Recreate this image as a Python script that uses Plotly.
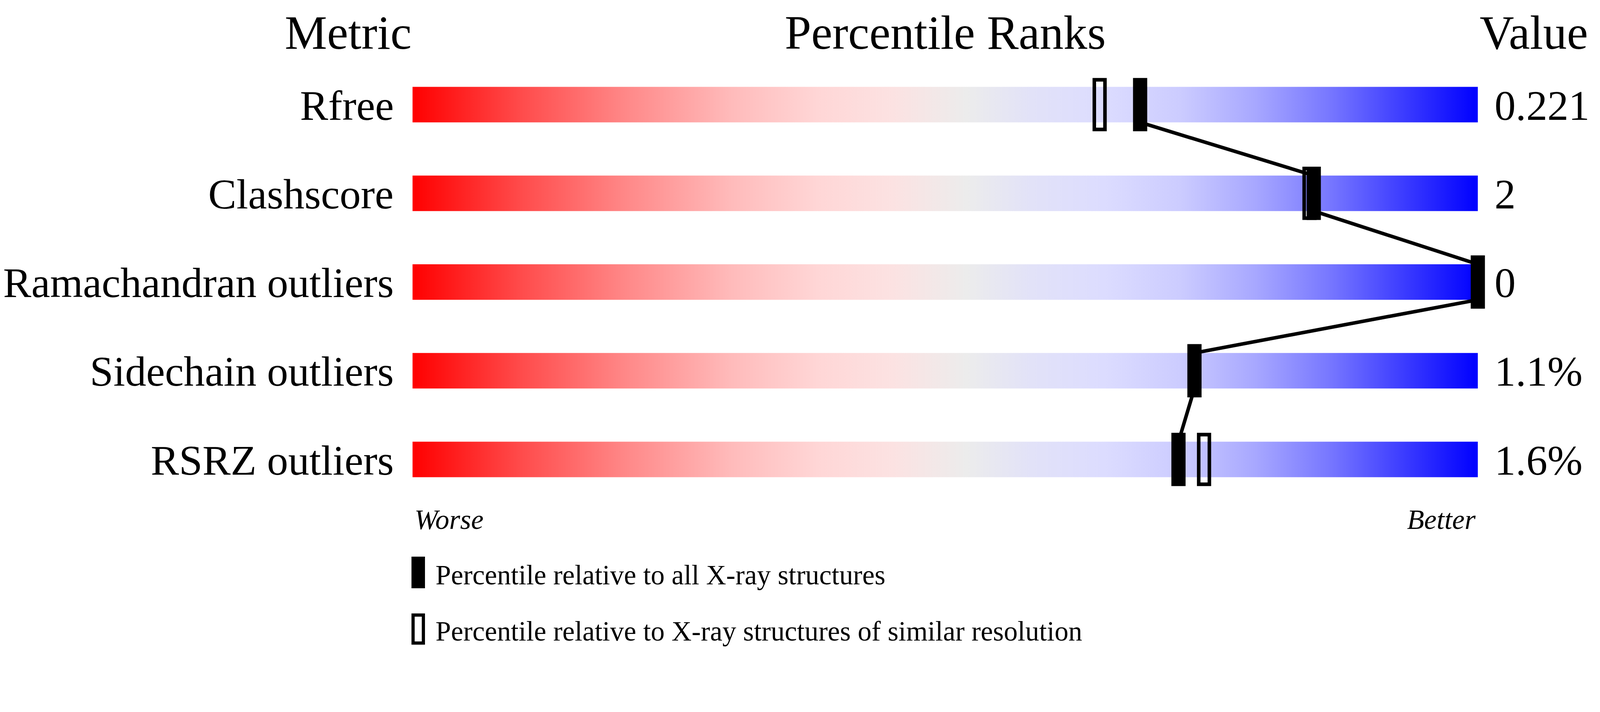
import plotly.graph_objects as go

# ---------------- data ----------------
metrics = ["Rfree", "Clashscore", "Ramachandran outliers", "Sidechain outliers", "RSRZ outliers"]
value_labels = ["0.221", "2", "0", "1.1%", "1.6%"]
pct_all = [68.3, 84.6, 100.0, 73.4, 71.9]          # percentile vs all X-ray structures (filled)
pct_similar = [64.5, 84.2, None, None, 74.3]       # percentile vs similar resolution (open)
headers = ["Metric", "Percentile Ranks", "Value"]
axis_ends = ["Worse", "Better"]
legend_texts = ["Percentile relative to all X-ray structures",
                "Percentile relative to X-ray structures of similar resolution"]

# ---------------- style ----------------
FONT = "Liberation Serif"
S = 1.1  # page pixel scale observed in the renderer
grad = [[0.00, "#FF0000"], [0.10, "#FF4A4A"], [0.20, "#FF8888"], [0.30, "#FFBBBB"],
        [0.38, "#FFD6D6"], [0.45, "#FCE2E2"], [0.52, "#ECECEC"], [0.58, "#E2E2F8"],
        [0.65, "#DCDCFF"], [0.72, "#CCCCFF"], [0.79, "#A8A8FF"], [0.86, "#7878FF"],
        [0.93, "#3C3CFF"], [1.00, "#0000FF"]]
BAR_H = 0.2      # half height of bar (row units)
MK_H = 0.3       # half height of markers
MK_W = 0.667     # half width of markers (percentile units)

fig = go.Figure()

n = len(metrics)
# gradient bars
for i in range(n):
    fig.add_trace(go.Scatter(
        x=[0, 100, 100, 0, 0],
        y=[i - BAR_H, i - BAR_H, i + BAR_H, i + BAR_H, i - BAR_H],
        mode="lines", fill="toself",
        fillgradient=dict(type="horizontal", colorscale=grad),
        line=dict(width=0, color="rgba(0,0,0,0)"),
        hoverinfo="skip", showlegend=False))

# connecting line between filled markers
lx, ly = [], []
for i in range(n - 1):
    lx += [pct_all[i], pct_all[i + 1]]
    ly += [i + BAR_H, i + 1 - BAR_H]
fig.add_trace(go.Scatter(x=lx, y=ly, mode="lines",
                         line=dict(color="black", width=10 / S),
                         hoverinfo="skip", showlegend=False))

# open markers (rectangle with a hole)
inner_w = 0.333
inner_h = 0.26
for i, p in enumerate(pct_similar):
    if p is None:
        continue
    xs = [p - MK_W, p + MK_W, p + MK_W, p - MK_W, p - MK_W,
          p - inner_w, p - inner_w, p + inner_w, p + inner_w, p - inner_w, p - MK_W]
    ys = [i - MK_H, i - MK_H, i + MK_H, i + MK_H, i - MK_H,
          i - inner_h, i + inner_h, i + inner_h, i - inner_h, i - inner_h, i - MK_H]
    fig.add_trace(go.Scatter(x=xs, y=ys, mode="lines", fill="toself",
                             fillcolor="black", line=dict(width=0, color="rgba(0,0,0,0)"),
                             hoverinfo="skip", showlegend=False))

# filled markers
for i, p in enumerate(pct_all):
    fig.add_trace(go.Scatter(
        x=[p - MK_W, p + MK_W, p + MK_W, p - MK_W, p - MK_W],
        y=[i - MK_H, i - MK_H, i + MK_H, i + MK_H, i - MK_H],
        mode="lines", fill="toself", fillcolor="black",
        line=dict(width=0, color="rgba(0,0,0,0)"),
        hoverinfo="skip", showlegend=False))

annotations = []
HY = -0.81
HF = 134
# headers
annotations.append(dict(x=0, y=HY, text=headers[0], xanchor="right", yanchor="middle",
                        font=dict(size=HF)))
annotations.append(dict(x=50, y=HY, text=headers[1], xanchor="center", yanchor="middle",
                        font=dict(size=HF)))
annotations.append(dict(x=100.1, y=HY, text=headers[2], xanchor="left", yanchor="middle",
                        font=dict(size=HF)))
# row labels & values
for i in range(n):
    annotations.append(dict(x=-1.7, y=i + 0.01, text=metrics[i], xanchor="right", yanchor="middle",
                            font=dict(size=119)))
    annotations.append(dict(x=101.5, y=i + 0.01, text=value_labels[i], xanchor="left",
                            yanchor="middle", font=dict(size=119)))
# worse / better
annotations.append(dict(x=0.1, y=4.676, text="<i>%s</i>" % axis_ends[0], xanchor="left",
                        yanchor="middle", font=dict(size=79)))
annotations.append(dict(x=99.9, y=4.676, text="<i>%s</i>" % axis_ends[1], xanchor="right",
                        yanchor="middle", font=dict(size=79)))
# legend texts
annotations.append(dict(x=2.1, y=5.304, text=legend_texts[0], xanchor="left", yanchor="middle",
                        font=dict(size=78)))
annotations.append(dict(x=2.1, y=5.936, text=legend_texts[1], xanchor="left", yanchor="middle",
                        font=dict(size=78)))
for a in annotations:
    a.update(showarrow=False, xref="x", yref="y")
    a["font"].update(family=FONT, color="black", size=a["font"]["size"] / S)

shapes = [
    dict(type="rect", xref="x", yref="y", x0=-0.1, x1=1.167, y0=5.096, y1=5.452,
         fillcolor="black", line=dict(width=0)),
    dict(type="rect", xref="x", yref="y", x0=0.05, x1=1.017, y0=5.754, y1=6.07,
         fillcolor="rgba(0,0,0,0)", line=dict(width=9 / S, color="black")),
]

W, H = 4485, 1824
fig.update_layout(
    width=round(W / S), height=round(H / S),
    margin=dict(l=0, r=0, t=0, b=0, pad=0),
    paper_bgcolor="white", plot_bgcolor="white",
    xaxis=dict(range=[-1153 / 30, (W - 1153) / 30], visible=False, fixedrange=True),
    yaxis=dict(range=[(H - 286) / 250, -286 / 250], visible=False, fixedrange=True),
    annotations=annotations, shapes=shapes, showlegend=False,
)

fig.write_html("out.html")
